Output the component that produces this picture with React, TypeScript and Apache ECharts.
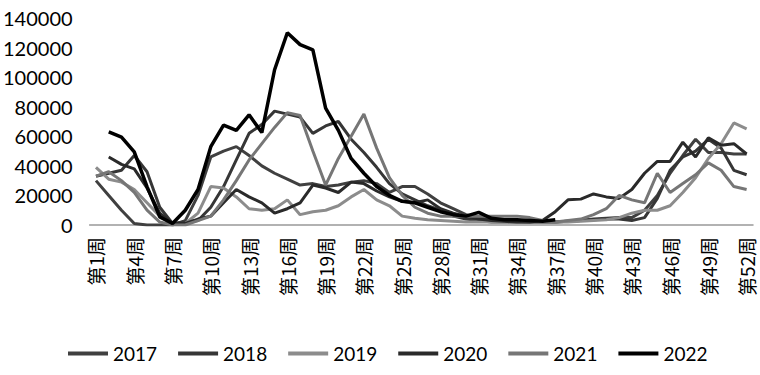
import React, { useEffect, useRef } from "react";
import * as echarts from "echarts";

const weeks: string[] = Array.from({ length: 52 }, (_, i) => `第${i + 1}周`);

const years = ["2017", "2018", "2019", "2020", "2021", "2022"];
const colors = ["#404040", "#363636", "#8c8c8c", "#2a2a2a", "#767676", "#000000"];

const s2017 = [30000, 20000, 10000, 1000, 0, 0, 0, 3000, 20000, 46000, 50000, 53000, 47000, 40000, 35000, 31000, 27000, 28000, 26000, 27000, 29000, 30000, 28000, 22000, 26000, 26000, 21000, 15000, 11000, 7000, 5000, 3500, 3000, 2500, 2000, 2000, 2000, 2500, 3000, 4000, 4500, 5000, 5000, 10000, 20000, 35000, 47000, 58000, 49000, 49000, 48000, 48000];
const s2018 = [33000, 35000, 37000, 47000, 36000, 12000, 1000, 2000, 3000, 12000, 26000, 44000, 62000, 68000, 77000, 75000, 73000, 62000, 67000, 70000, 58000, 49000, 39000, 28000, 21000, 17000, 13000, 10000, 6000, 4000, 3000, 2000, 2000, 2000, 2000, 2000, 2000, 2500, 3000, 3500, 4000, 4000, 3000, 5000, 18000, 37000, 46000, 50000, 58000, 52000, 37000, 34000];
const s2019 = [39000, 31000, 29000, 24000, 15000, 6000, 1000, 1000, 8000, 26000, 25000, 19000, 11000, 10000, 11000, 17000, 7000, 9000, 10000, 13000, 19000, 24000, 17000, 13000, 6000, 4500, 3500, 3000, 2500, 2000, 2000, 2000, 2000, 2000, 2000, 2000, 2000, 2000, 2500, 3000, 3500, 5000, 8000, 10000, 10000, 13000, 22000, 32000, 45000, 55000, 69000, 65000];
const s2020 = [null, 46000, 41000, 38000, 25000, 8000, 1000, 1000, 4000, 6000, 15000, 24000, 19000, 15000, 8000, 11000, 15000, 27000, 25000, 22000, 29000, 28000, 23000, 19000, 16000, 15000, 17000, 11000, 8000, 6000, 4000, 3000, 2500, 2000, 2000, 3000, 9000, 17000, 17500, 21000, 19000, 18000, 24000, 35000, 43000, 43000, 56000, 46000, 59000, 54000, 55000, 48000];
const s2021 = [33000, 36000, 30000, 22000, 10000, 2000, 0, 0, 3000, 6000, 17000, 30000, 44000, 55000, 66000, 76000, 74000, 50000, 27000, 45000, 60000, 75000, 52000, 32000, 20000, 12000, 8000, 6000, 6000, 6000, 6000, 6000, 6000, 6000, 5000, 3000, 2000, 3000, 4000, 7000, 11000, 20000, 17000, 15000, 35000, 22000, 28000, 34000, 42000, 37000, 26000, 24000];
const s2022 = [null, 63000, 59500, 49500, 26000, 5500, 1000, 10000, 24000, 53000, 67500, 64000, 74500, 62500, 105000, 130000, 122000, 118500, 79000, 64000, 45000, 35000, 26000, 20000, 16000, 15000, 12000, 9000, 7000, 6000, 8500, 4500, 3500, 3500, 3000, 2500, 3500, null, null, null, null, null, null, null, null, null, null, null, null, null, null, null];

const seriesData = [s2017, s2018, s2019, s2020, s2021, s2022];

const yTicks = { min: 0, max: 140000, interval: 20000 };

export default function App() {
  const ref = useRef<HTMLDivElement>(null);
  useEffect(() => {
    document.body.style.margin = "0";
    const chart = echarts.init(ref.current!, null, { renderer: "svg" });
    chart.setOption({
      animation: false,
      backgroundColor: "#ffffff",
      grid: { left: 89, right: 7, top: 18, bottom: 150, containLabel: false },
      legend: {
        data: years,
        left: 63,
        top: 339,
        icon: "rect",
        itemWidth: 40,
        itemHeight: 4,
        itemGap: 21,
        textStyle: { fontFamily: "Lato", fontSize: 19, color: "#000" },
      },
      xAxis: {
        type: "category",
        data: weeks,
        boundaryGap: true,
        axisLine: { show: true, lineStyle: { color: "#999999", width: 1.5 } },
        axisTick: { show: false },
        axisLabel: {
          interval: 2,
          rotate: 90,
          margin: 12,
          fontFamily: "Noto Sans CJK SC",
          fontSize: 19,
          color: "#000",
        },
      },
      yAxis: {
        type: "value",
        min: yTicks.min,
        max: yTicks.max,
        interval: yTicks.interval,
        axisLine: { show: false },
        axisTick: { show: false },
        splitLine: { show: false },
        axisLabel: {
          margin: 17,
          fontFamily: "Lato",
          fontSize: 20,
          color: "#000",
          formatter: (v: number) => String(v),
        },
      },
      series: years.map((y, i) => ({
        name: y,
        type: "line",
        data: seriesData[i],
        symbol: "none",
        connectNulls: false,
        itemStyle: { color: colors[i] },
        lineStyle: { color: colors[i], width: i === 5 ? 3.5 : 3 },
        z: i === 5 ? 10 : 2,
      })),
    });
    return () => chart.dispose();
  }, []);
  return <div ref={ref} style={{ position: "absolute", left: 0, top: 0, width: 760, height: 375 }} />;
}
